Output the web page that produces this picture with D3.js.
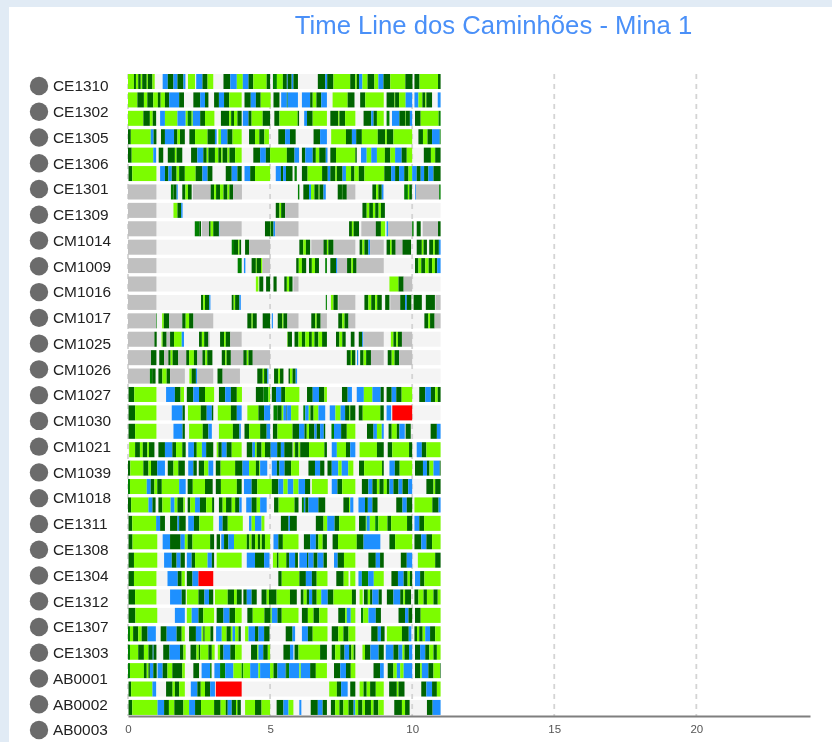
<!DOCTYPE html>
<html><head><meta charset="utf-8">
<script src="https://cdn.jsdelivr.net/npm/d3@7/dist/d3.min.js"></script>
<style>html,body{margin:0;padding:0;background:#e1ebf5;overflow:hidden}svg{display:block;filter:blur(.55px)}text{font-family:"Liberation Sans",Arial,sans-serif}</style>
</head><body><div id="chart"></div>
<script>
const chartTitle = "Time Line dos Caminhões - Mina 1";
const trucks = ["CE1310","CE1302","CE1305","CE1306","CE1301","CE1309","CM1014","CM1009","CM1016","CM1017","CM1025","CM1026","CM1027","CM1030","CM1021","CM1039","CM1018","CE1311","CE1308","CE1304","CE1312","CE1307","CE1303","AB0001","AB0002","AB0003"];
const tickValues = [0,5,10,15,20];
const statusCodes = ["L","D","G","B","S","R"];
const statusColors = ["#7cfc00","#006400","#008000","#1e90ff","#c0c0c0","#ff0000"];
// Each row: start hour, status, start hour, status, ... end hour ("O" = idle, no mark)
const timelines = [
[0,"L",2.1,"D",2.8,"L",3.6,"D",4.5,"L",5,"D",6.6,"L",7,"D",8.6,"L",9.4,"O",10,"O",12.2,"B",14,"D",16,"B",17.4,"D",19.5,"B",20.2,"O",21.1,"L",23.6,"O",24,"B",26.2,"D",28,"L",30,"O",33.6,"D",36,"B",38.3,"L",40.4,"B",42.4,"D",44.1,"L",48.8,"D",50,"O",51,"G",52.4,"L",54.5,"D",55.9,"B",56.2,"D",57.6,"B",58.2,"D",59.8,"O",66.8,"D",69.4,"B",70.1,"D",72.3,"L",78.2,"D",80,"L",80.5,"D",81.3,"B",82.5,"L",84.3,"D",86.7,"L",88.1,"B",89.9,"D",92.3,"L",97.6,"D",100.1,"O",100.8,"D",102.6,"L",109.1,"D",110],
[0,"L",3.3,"D",5.6,"L",6.8,"D",8.9,"L",10.5,"D",11.5,"L",13,"D",14.5,"B",18,"D",19.7,"O",23,"D",25.4,"B",27.1,"D",28.3,"O",30.3,"D",32,"B",33.8,"D",35.6,"L",40,"O",41,"D",43.2,"B",45,"D",46.7,"L",50.2,"O",51.2,"D",53.3,"O",53.9,"B",55.9,"G",56.2,"B",59.8,"O",61.2,"B",64.1,"D",65,"L",66.3,"D",68,"B",70,"O",72,"L",77.3,"D",79.7,"O",81.7,"D",83.5,"L",90,"O",91,"D",93.8,"L",94,"D",95.4,"L",97.7,"B",100,"O",100.8,"B",102.2,"L",103.6,"D",104.6,"L",105,"D",107,"O",109,"B",110],
[0,"L",5.4,"D",7.7,"L",8.7,"D",9.9,"O",11.3,"B",13,"L",17.4,"B",20.3,"L",21,"G",22.4,"L",22.8,"B",25.4,"D",27.1,"L",30.4,"O",32.7,"D",35.6,"L",36.3,"D",37.3,"L",38.5,"D",40,"O",40.4,"B",42.4,"D",43.5,"L",47.4,"D",50,"O",51.5,"D",53.3,"L",59.7,"D",60.2,"O",62,"B",63,"D",65,"L",70,"O",71.2,"D",74,"L",74.4,"D",76.4,"L",80,"O",82.9,"D",85.6,"B",86.4,"D",87.6,"L",90,"O",91,"G",92,"O",92.9,"B",95.5,"D",97.5,"L",97.7,"D",99.2,"B",100,"O",101,"D",103,"L",109.3,"G",110],
[0,"D",1,"L",8,"B",9,"D",10,"O",11.6,"D",13,"B",16.2,"D",17.4,"L",18.3,"D",20,"O",21.6,"D",23.6,"L",28,"D",30.6,"B",31.2,"O",31.8,"L",32.7,"B",35,"D",36.8,"L",40,"O",42.6,"D",44.7,"L",46.2,"D",48,"L",49.6,"O",52.9,"D",55.3,"B",57,"D",59,"O",65.3,"D",67.6,"B",70,"O",71.5,"L",76.7,"D",78.8,"B",80.3,"D",82.3,"L",87.9,"D",90.5,"L",91.1,"D",93.4,"L",100,"O",102.2,"D",103.8,"L",105.4,"D",107,"B",109.7,"G",110],
[0,"D",1.3,"L",8.9,"B",9.9,"O",10.8,"D",12.4,"O",14,"D",16.5,"L",17.1,"D",19.1,"O",22.2,"D",24.4,"B",26.5,"D",27.7,"L",28.3,"D",30.6,"L",31.8,"D",32.8,"L",33.3,"D",35,"L",35.7,"D",37.7,"L",40,"O",44.1,"D",46.5,"B",48.5,"D",50,"L",55.9,"D",58.6,"B",60.2,"O",61.2,"D",62.4,"B",65,"D",66.1,"L",67.3,"D",69.6,"B",70.2,"O",71.2,"D",73.2,"L",80,"D",80.5,"O",82,"B",84,"L",85.6,"B",87.6,"L",90.4,"D",92.3,"L",94,"B",96.3,"D",98.1,"L",100,"O",104.1,"D",106.6,"L",108.1,"D",110],
[0,"O",0.2,"D",1.5,"L",10,"O",11.3,"B",13,"D",14.2,"B",15.4,"D",17.1,"L",18,"D",20,"L",23.8,"D",26.2,"B",28,"D",29.7,"O",34.4,"D",36.5,"B",38.5,"D",40,"O",41,"B",43,"D",44.7,"L",50,"O",52,"B",53.8,"D",54.6,"B",55.6,"D",57.9,"O",58.6,"G",59.4,"O",61.2,"D",63.2,"L",68.3,"D",70.3,"B",71.2,"D",73,"L",73.5,"D",75.5,"B",76.7,"L",78.5,"D",79.7,"L",81.2,"D",83.2,"L",90.2,"D",92.6,"B",94,"D",95.4,"B",97.2,"D",98.7,"L",100,"B",101.6,"D",103,"B",104.2,"D",105.7,"B",107.5,"D",110],
[0,"S",10,"O",15.1,"G",16,"D",17.1,"B",17.5,"O",19.1,"D",20.2,"L",21.1,"D",22.4,"O",22.8,"S",29.1,"D",30.3,"L",31,"D",32.4,"L",33.6,"D",35,"L",35.7,"D",37,"S",40.1,"O",59.8,"G",60.3,"O",61.7,"D",63.7,"B",64.4,"L",65.6,"D",67.1,"L",67.4,"D",68.8,"B",69.6,"O",73.8,"D",75.3,"L",75.4,"D",77,"S",80,"O",86,"D",87.3,"L",88.1,"D",89.3,"B",89.9,"O",97.2,"G",98.5,"L",99,"D",99.9,"O",101,"B",101.3,"S",109.5,"G",110],
[0,"S",10,"O",16,"L",17.4,"D",18.7,"B",19.2,"O",52,"D",53.3,"L",53.9,"D",55.3,"S",60,"O",82.5,"D",84,"L",84.9,"D",86.2,"L",87,"D",88.2,"L",89,"D",90.4,"O",110],
[0,"S",10,"O",23.5,"G",25.1,"D",25.7,"O",26,"S",28.5,"D",29.1,"L",30,"D",32,"B",32.2,"S",40,"O",48.2,"D",50,"L",50.2,"D",51.2,"B",51.8,"S",60,"O",77.8,"D",78.8,"L",79.4,"D",81.3,"O",82.1,"S",87.2,"D",89,"L",90.5,"O",91,"B",91.5,"S",100,"G",100.5,"O",101.6,"D",103,"O",103.7,"S",109.1,"D",110],
[0,"S",10,"O",36.5,"G",37.3,"D",38.8,"L",39.2,"D",39.8,"O",41.2,"D",42.6,"S",50,"O",60.3,"D",61.7,"L",62.6,"D",64.1,"O",64.5,"S",68.8,"D",70,"L",70.5,"D",72.3,"O",72.5,"S",80,"O",81.5,"D",82.5,"L",83.2,"D",84.6,"B",85.2,"S",90,"O",91,"D",92.2,"L",92.8,"D",94.2,"S",96.6,"D",99.6,"O",101.6,"D",103.4,"L",104,"D",105.2,"O",106,"D",107.4,"L",108,"D",109.4,"B",110],
[0,"S",10,"O",38.6,"G",40,"O",40.8,"B",41.3,"O",43.5,"D",45,"L",45.3,"D",46.8,"L",47.3,"S",50,"O",59.2,"D",60.1,"L",61.2,"D",62.7,"O",63.7,"D",64.7,"L",65.8,"D",67.2,"O",69.4,"G",70,"O",71.2,"D",73.2,"B",73.7,"S",77.1,"D",78.6,"L",79.2,"D",80.4,"O",80.6,"S",90,"O",101,"D",102.2,"L",103.2,"D",104.6,"L",105.8,"D",107,"L",108,"D",108.8,"B",110],
[0,"S",10,"O",45,"L",45.9,"O",46.2,"D",47.6,"O",48.6,"D",50,"O",51.2,"D",52.3,"O",55,"D",55.9,"L",56.7,"D",57.9,"O",58.2,"S",60,"O",92,"L",95.2,"D",97,"S",100,"O",110],
[0,"S",10,"O",25.7,"D",26.5,"L",27.1,"D",28.6,"B",29,"O",36.5,"D",37.2,"L",37.7,"D",39.2,"B",39.7,"O",69.6,"G",70,"O",71.4,"L",72.3,"D",73.8,"O",74,"S",80,"O",83.2,"D",84.6,"L",85.6,"D",87,"L",87.7,"D",89.3,"O",90.5,"D",92,"O",92.3,"S",95.8,"D",97.5,"B",98.1,"D",99.7,"O",100.5,"D",103.4,"O",104.8,"D",108,"O",108.2,"S",110],
[0,"S",9.9,"G",10.1,"O",12,"L",12.6,"D",14.5,"S",19.1,"D",20.3,"L",21.5,"D",23,"O",23.2,"S",30,"O",42,"D",43.5,"L",43.9,"D",45.3,"O",47.4,"D",50,"O",50.6,"B",51,"O",52.7,"D",54.3,"L",54.7,"D",56.1,"S",60,"O",64.5,"D",65.9,"L",66.4,"D",67.8,"S",70,"O",74,"D",75.4,"L",76.2,"D",77.6,"S",80,"O",104.3,"D",105.7,"L",106.3,"D",107.9,"S",110],
[0,"S",9.3,"D",10.1,"O",11.8,"L",12.2,"D",13.6,"S",14.8,"D",16.2,"L",18.9,"B",19.7,"O",25,"D",26,"L",26.8,"D",28.3,"S",28.7,"O",32.4,"D",33.8,"L",34.4,"D",36,"S",40,"O",56,"L",56.2,"D",57.7,"O",58.6,"D",60,"L",61.2,"D",62.4,"L",63.7,"D",64.7,"L",65.6,"D",67,"L",68.3,"D",70,"O",73.2,"D",74.4,"L",75.4,"D",76.6,"O",78.4,"D",79.7,"O",81.2,"D",82.4,"B",82.8,"S",90,"O",92.5,"L",93.4,"D",94.4,"L",95,"D",96.4,"S",100,"O",110],
[0,"S",8.1,"D",10,"O",11,"D",12.7,"S",14.2,"D",15,"L",15.7,"D",17.7,"S",20.5,"D",21.5,"L",23.2,"D",24.4,"S",26.2,"D",27.2,"L",27.9,"D",29.7,"O",33,"D",34.2,"L",34.7,"D",36.2,"S",40.6,"D",41.8,"L",42.4,"D",43.9,"S",50,"O",77,"D",78.4,"L",78.8,"D",80,"O",80.6,"B",81,"O",81.7,"D",82.9,"L",83.8,"D",85.5,"S",90,"O",91.4,"D",92.8,"L",93.8,"D",95.4,"S",100,"O",110],
[0,"S",7.7,"G",8.5,"D",9.7,"O",10.7,"D",12.1,"L",13.6,"D",14.8,"S",20,"O",21.6,"L",22.4,"D",23.9,"B",24.4,"S",30,"O",31.5,"D",33.3,"S",39.4,"O",45.5,"D",47.4,"L",47.9,"D",49,"B",49.4,"O",51.4,"D",52.9,"L",53.5,"D",54.7,"O",56.5,"D",57,"L",57.9,"D",59,"B",59.5,"O",110],
[0,"O",0.2,"D",2.2,"L",10,"O",13.4,"B",16.5,"D",18.5,"L",19.7,"O",20.7,"D",23,"B",25,"D",27.1,"L",30.3,"O",32,"D",34.2,"B",36.2,"D",38.3,"L",40.1,"O",45,"D",47.7,"G",49.4,"L",50,"O",50.6,"D",52.1,"B",53.9,"D",55.3,"L",60.3,"O",63,"D",65,"B",67.2,"D",69.1,"L",70,"O",75.3,"D",77.3,"B",78.8,"O",80.5,"B",83,"L",86,"B",88.9,"D",90,"O",91,"D",92.8,"B",94.4,"D",96.3,"L",100,"O",102.5,"D",104.6,"B",106.6,"D",108.1,"L",109,"D",110],
[0,"O",0.2,"D",2.5,"L",10,"O",15.4,"B",19.2,"D",20,"O",21.1,"L",25.6,"D",27.7,"B",29.5,"D",30,"O",31.6,"L",36.2,"D",38.3,"B",40,"O",42,"L",45.9,"D",47.9,"B",50,"O",51.2,"G",52.6,"D",54.1,"L",54.7,"B",55.8,"D",56,"B",57.4,"L",60,"O",61.7,"G",62.4,"B",63.6,"L",64.2,"D",65.3,"L",67,"B",69.4,"O",71,"B",73,"L",74.8,"B",76.4,"D",77.9,"L",78.2,"D",80,"O",81.2,"D",82.6,"L",88.8,"D",90,"O",91,"B",92.6,"O",93,"R",100,"O",110],
[0,"O",0.2,"D",2.5,"L",10,"O",16,"B",19.2,"D",20,"O",21.5,"L",26.3,"D",28.3,"B",29.5,"O",32,"L",36.9,"D",39.2,"B",39.7,"O",41,"D",42.6,"L",46.5,"D",48.8,"B",50,"O",51,"D",52.6,"L",57.9,"D",60.2,"B",62.1,"D",62.9,"L",63.7,"D",65.6,"B",66.4,"D",67.6,"B",68.9,"D",69.4,"O",71.6,"G",72.5,"B",75,"D",77,"L",80,"O",84.1,"D",86.4,"B",87.6,"L",89.3,"B",90,"O",91.7,"D",92.8,"L",94.6,"D",95.5,"B",97.4,"O",97.7,"D",99.5,"O",106.5,"D",108.7,"B",110],
[0,"O",0.4,"L",2.5,"D",4.2,"L",5.2,"D",6.8,"L",7.4,"D",9.3,"O",10.7,"D",13,"B",15.6,"D",16.9,"L",19.1,"D",20.3,"O",21.2,"B",23.2,"D",24.2,"L",26,"B",27.5,"D",30,"O",31.2,"L",31.8,"D",33,"B",34.7,"D",36.5,"L",40,"O",41.8,"D",43.8,"B",44.7,"L",45.3,"D",47,"L",48.2,"D",50.2,"B",52.5,"D",53.8,"B",55,"D",57.9,"O",58.2,"L",58.8,"D",60,"L",60.6,"D",63.7,"L",69.1,"D",70,"O",71.7,"B",73.5,"L",76.7,"D",78.2,"B",80,"O",81.5,"L",87.6,"D",90,"O",91.4,"D",93,"L",98.9,"D",100,"O",101.6,"B",103.4,"D",105,"L",110],
[0,"D",0.8,"L",5.4,"D",7.2,"L",8.1,"D",10.3,"B",13,"O",14,"D",16,"L",17.7,"D",20,"O",21.2,"B",23,"D",24.2,"O",24.9,"D",26.8,"L",28.3,"B",30,"O",30.9,"D",32.6,"L",37.7,"D",40.3,"B",42.6,"L",45,"D",46.2,"L",46.5,"B",49,"O",50.6,"B",52.4,"D",53.3,"B",55.1,"D",57.4,"L",60.2,"O",63.5,"D",65.8,"B",67.6,"D",69.1,"O",70.2,"D",71.7,"B",74,"L",75.2,"B",77.5,"L",79.3,"O",81.3,"D",83.1,"L",89.4,"D",90,"O",92,"B",93.9,"D",95.6,"L",100,"O",101,"D",103.8,"B",105.2,"D",106.1,"L",107.5,"B",109.7,"D",110],
[0,"G",0.7,"L",6.6,"B",8,"D",9.3,"L",10.3,"D",11.9,"L",18,"B",20.3,"O",21,"D",22.8,"L",27.1,"D",29.8,"O",30.9,"D",32.7,"L",38.3,"D",40,"O",40.8,"B",43.5,"D",45.5,"L",50.6,"D",52.9,"B",54.7,"L",56.2,"B",58.2,"L",60,"B",62.3,"D",64.1,"O",64.7,"L",70.3,"O",71.7,"B",73.7,"D",75.4,"L",80,"O",82.3,"D",84.6,"B",86,"D",87.6,"L",88.5,"D",90,"L",91.1,"D",92,"B",93.4,"D",95.2,"B",96.6,"D",98.6,"B",100,"O",105,"D",107.5,"L",108.1,"D",110],
[0,"D",1.1,"L",7.2,"B",8.6,"D",9.7,"O",10.7,"D",12.1,"L",15,"B",16.4,"L",17.4,"D",19.5,"L",20,"O",21,"D",21.9,"L",23.6,"B",25.3,"D",27.5,"L",29.6,"D",30.3,"O",32,"D",33.3,"L",34.5,"D",36.5,"L",37.7,"D",39.2,"B",40,"O",41.6,"B",43.5,"D",45.3,"L",46.5,"B",48.8,"O",51.4,"D",53,"L",58.6,"D",60,"O",61.2,"G",61.9,"B",62.4,"D",63.5,"B",67,"D",69.4,"O",75.8,"D",77.8,"L",78.2,"B",79.3,"O",81.1,"B",83.4,"D",84.4,"B",86,"D",87.8,"O",94.4,"D",96.6,"B",98.1,"D",100,"O",100.8,"L",107.1,"D",109.3,"B",110],
[0,"O",0.2,"D",1.5,"L",9.9,"B",11.3,"D",13,"O",14.8,"D",17.4,"B",18,"D",20.3,"O",21.2,"B",23.2,"D",25.1,"L",30,"O",32,"B",33.3,"D",35.1,"L",40.4,"O",42.6,"B",43.5,"L",44.7,"B",47,"L",48,"O",53.8,"D",56.5,"B",57,"D",59.4,"O",66.1,"D",68.8,"L",70.1,"B",72.7,"D",74.3,"L",80,"O",81.3,"D",83.7,"L",84,"B",85.1,"L",87,"G",88.1,"L",91.3,"D",92.6,"L",98.2,"D",100,"O",100.8,"B",102.5,"D",104.2,"L",110],
[0,"O",0.2,"D",1.6,"L",10.3,"O",12.2,"B",14.8,"D",18.5,"B",20,"L",21,"D",22.7,"L",28.9,"D",30.3,"O",31.2,"D",32.4,"O",32.8,"B",33.8,"D",35.3,"B",37.3,"L",41.8,"D",42.7,"L",43.5,"D",44.7,"L",45.7,"D",46.5,"L",47.1,"D",48.2,"L",50,"O",51.2,"B",52.9,"D",54.5,"L",60,"O",61.9,"D",64.1,"B",66.1,"D",67,"L",68.5,"D",70,"O",72,"D",73.9,"L",80.5,"D",82.9,"B",88.8,"O",92,"D",94,"L",100,"O",100.8,"D",103.2,"B",105,"D",107,"L",110],
[0,"O",0.2,"D",2.1,"L",10.3,"O",12.7,"B",15.4,"D",17.1,"B",18.5,"D",20,"O",20.7,"B",22.4,"D",23.6,"L",28,"B",29.5,"D",30.3,"O",31.2,"L",40,"O",41.8,"B",44.7,"D",47.9,"B",49.8,"O",51,"L",52.4,"D",53,"L",55.7,"D",56.7,"B",58.8,"D",59.8,"O",60.3,"B",63,"D",63.5,"B",65.3,"D",66.7,"B",68.8,"D",70,"O",72.5,"B",73.8,"D",76,"L",80,"O",84.6,"D",87.2,"B",88.7,"D",90,"O",96,"D",98.1,"B",100,"O",102,"L",108.1,"D",110],
[0,"O",0.2,"D",2.1,"L",10,"O",13.9,"B",17.5,"D",18.9,"L",20,"O",20.7,"D",22.7,"B",24.8,"R",30,"O",52.9,"D",54.1,"L",60.3,"D",62.6,"B",64.7,"D",66.4,"L",70.2,"O",73.3,"D",75.9,"L",77.6,"O",78.2,"L",80,"O",81.1,"B",82.3,"G",84.5,"B",86.5,"L",90,"O",92.7,"D",95,"B",97,"D",98.4,"L",99.2,"D",100,"O",101,"B",102.8,"D",104.3,"L",110],
[0,"O",0.2,"D",2.5,"L",10,"O",14.8,"B",18.9,"D",20.3,"O",20.7,"L",24.8,"D",26.9,"B",28.5,"D",30,"O",30.6,"L",35.1,"D",37.3,"L",38.3,"D",40,"O",40.6,"D",41.8,"B",43.5,"D",45.3,"O",47,"D",48.8,"L",49.6,"D",52.3,"L",57,"D",59.4,"O",60.8,"D",61.8,"L",62.9,"D",63.7,"B",64.8,"D",66.4,"L",68,"B",70.3,"D",72.3,"L",78.8,"D",80.2,"O",81.5,"L",82.6,"O",83,"D",84.4,"L",85.2,"D",86,"B",88.2,"D",89.3,"O",91.1,"D",93.4,"B",95.8,"D",96.9,"L",97.5,"D",99.6,"O",100.8,"D",102.2,"L",104,"D",105.2,"L",107.5,"D",109,"L",110],
[0,"O",0.2,"D",2.6,"L",10.3,"O",16.5,"B",20,"O",20.7,"L",22.4,"B",24.8,"D",26.5,"L",30.3,"O",31.2,"D",33.6,"B",35.7,"D",37.7,"L",40,"O",42,"D",43.9,"L",48,"D",50.2,"L",50.6,"B",52.6,"D",54.1,"L",60,"O",61.2,"D",63.3,"L",65.3,"D",67.3,"L",70.2,"O",74,"D",76.4,"L",77,"B",78.4,"L",80,"O",82,"G",82.8,"L",84.6,"B",87.2,"D",89,"O",95.2,"D",97.5,"B",98.7,"D",100,"O",101,"D",103,"L",110],
[0,"G",0.7,"L",1.8,"D",3.6,"L",4.8,"D",6.9,"B",9.8,"O",11.5,"D",13.6,"B",17.1,"D",18.9,"L",20,"O",21.5,"D",23.9,"B",25.9,"L",26.5,"D",27,"L",29,"D",30,"O",31,"B",33,"L",34.7,"D",36.2,"L",36.8,"B",37.7,"L",38.9,"D",39.7,"O",41.2,"L",42.4,"B",44.7,"D",45.9,"B",47.9,"D",49.8,"O",55.5,"D",57.9,"B",58.8,"O",61.2,"B",63.3,"D",65,"L",70.2,"O",71.7,"D",74,"L",75.8,"D",77.6,"L",80,"O",85.6,"D",87.9,"B",89,"D",90.3,"O",91.1,"L",96.4,"D",98.8,"B",99.7,"O",100.8,"D",101.7,"L",102.5,"D",103.7,"L",104.6,"B",106.3,"D",108.1,"L",110],
[0,"G",0.7,"L",3.6,"D",5.6,"L",7.2,"D",8.7,"B",9,"D",10,"O",12.4,"D",14.6,"B",18.3,"D",19.5,"L",20.3,"O",22,"D",24.1,"L",24.9,"D",25.4,"L",28.3,"D",29.5,"L",30.5,"O",31.6,"L",32.4,"D",33.6,"B",36,"D",37.7,"L",40,"O",43.3,"D",45.5,"L",45.9,"B",47.6,"D",49.2,"L",50,"O",54.7,"D",57,"B",58.2,"O",58.6,"D",60,"L",67.6,"D",70,"O",71.7,"D",72.9,"L",74.7,"D",76.2,"B",77.8,"D",78.6,"L",79.4,"D",80,"O",82.5,"L",83.4,"D",85.3,"B",88.2,"D",90,"O",90.7,"B",93.4,"D",95.2,"B",96.6,"L",97.3,"D",98.9,"B",100,"O",101,"D",102.8,"B",104.6,"D",106,"L",107.5,"D",108.7,"L",110],
[0,"G",0.7,"L",5.6,"D",6.6,"L",7.2,"D",7.7,"B",8.9,"D",10.1,"O",10.4,"B",12.2,"D",13.9,"L",15.6,"D",19.1,"L",20,"O",23,"D",25,"O",25.9,"B",28.9,"G",29.4,"O",30.4,"B",32.4,"G",34.2,"B",37.1,"L",40,"G",40.6,"L",43,"B",45.9,"L",46.5,"B",50,"L",51.2,"D",52.6,"B",55.5,"D",55.9,"G",56.7,"B",60.3,"L",60.8,"B",64.1,"D",66.1,"L",70,"O",72.5,"D",74.7,"B",76.7,"D",78.4,"L",80,"O",86.4,"D",88.7,"B",90,"O",91.4,"D",93.4,"L",94.6,"B",95.8,"L",97,"B",100,"O",101,"D",102.8,"L",103.4,"B",105.7,"D",107.5,"L",109.8,"D",110],
[0,"O",0.2,"D",1.1,"L",8.6,"B",9.9,"O",13.4,"D",15.7,"L",16.5,"D",18,"L",20,"O",22.1,"B",24.4,"D",25.6,"L",27.1,"D",28.9,"B",30.6,"O",30.9,"R",40,"O",70.8,"L",73.5,"D",75,"B",77.3,"O",78.2,"D",80,"O",81.5,"L",82.9,"D",84,"L",85.2,"D",87.2,"L",90,"O",91.9,"D",94.6,"L",95.2,"D",97.3,"O",103.2,"D",105,"B",107,"D",108.7,"L",110],
[0,"O",0.2,"D",1.5,"L",10.4,"B",12.7,"D",14.4,"L",16.3,"D",19.5,"L",21.5,"B",23.6,"D",25.7,"L",30.3,"D",32.6,"L",34.4,"D",35.1,"B",36.5,"D",38,"L",38.5,"D",39.7,"O",41.2,"L",44.7,"D",47,"L",50,"O",52.3,"D",54.7,"B",56.5,"L",58.2,"O",60.3,"B",61,"O",64.3,"D",66.8,"B",68.5,"D",70,"O",71.4,"D",72.9,"L",74.4,"D",75.8,"L",77.6,"D",79.4,"B",80,"L",81,"D",82.5,"L",83.4,"D",85.5,"L",86.4,"D",88.1,"L",90,"O",93.7,"D",96.4,"L",97.5,"D",99.1,"O",105.2,"D",107.2,"B",110]
];
const W=832,H=742;
const x=d3.scaleLinear().domain([0,24]).range([128,810]);
const rowBand=d3.scaleBand().domain(d3.range(timelines.length)).range([72.3,72.3+18.41*timelines.length]).paddingInner(.185).paddingOuter(.0925);
const labelY=d3.scalePoint().domain(trucks).range([86,730]);
const color=d3.scaleOrdinal(statusCodes,statusColors);
const svg=d3.select("#chart").append("svg").attr("width",W).attr("height",H);
svg.append("rect").attr("x",9).attr("y",7).attr("width",W-9).attr("height",H-7).attr("fill","#fff");
svg.append("text").attr("x",493.5).attr("y",34).attr("text-anchor","middle").attr("font-size",25.7).attr("fill","#4a90f8").text(chartTitle);

const rows=svg.append("g").selectAll("g").data(timelines).join("g").attr("transform",(d,i)=>`translate(0,${rowBand(i)})`);
rows.append("rect").attr("x",x(0)).attr("width",x(11)-x(0)).attr("height",rowBand.bandwidth()).attr("fill","#f4f4f4");

const gridTop=74, axisY=716;
svg.append("g").selectAll("line").data(tickValues).join("line")
 .attr("x1",d=>x(d)).attr("x2",d=>x(d)).attr("y1",gridTop).attr("y2",axisY)
 .attr("stroke","#d4d4d4").attr("stroke-width",1.8).attr("stroke-dasharray","5,5");

const marks=svg.append("g").selectAll("g").data(timelines).join("g").attr("transform",(d,i)=>`translate(0,${rowBand(i)})`);
marks.selectAll("rect").data(r=>{
  const s=[];
  for(let j=0;j+2<r.length;j+=2){ if(r[j+1]!=="O"&&r[j+2]>r[j]) s.push({a:r[j],b:Math.min(r[j+2],110),c:r[j+1]}); }
  return s;
}).join("rect")
 .attr("x",d=>x(d.a/10)).attr("width",d=>x(d.b/10)-x(d.a/10))
 .attr("height",rowBand.bandwidth()).attr("fill",d=>color(d.c));

const axis=svg.append("g").attr("transform",`translate(0,${axisY})`)
 .call(d3.axisBottom(x).tickValues(tickValues).tickSize(0).tickPadding(9).tickSizeOuter(0));
axis.select(".domain").attr("stroke","#7f7f7f").attr("stroke-width",2);
axis.selectAll("text").attr("font-size",11.5).attr("fill","#555").attr("font-family","'Liberation Sans',Arial,sans-serif");

const lab=svg.append("g").selectAll("g").data(trucks).join("g").attr("transform",d=>`translate(0,${labelY(d)})`);
lab.append("circle").attr("cx",39).attr("cy",0).attr("r",9.2).attr("fill","#6b6b6b");
lab.append("text").attr("x",53).attr("y",5.3).attr("font-size",15.4).attr("fill","#222").text(d=>d);
</script></body></html>
